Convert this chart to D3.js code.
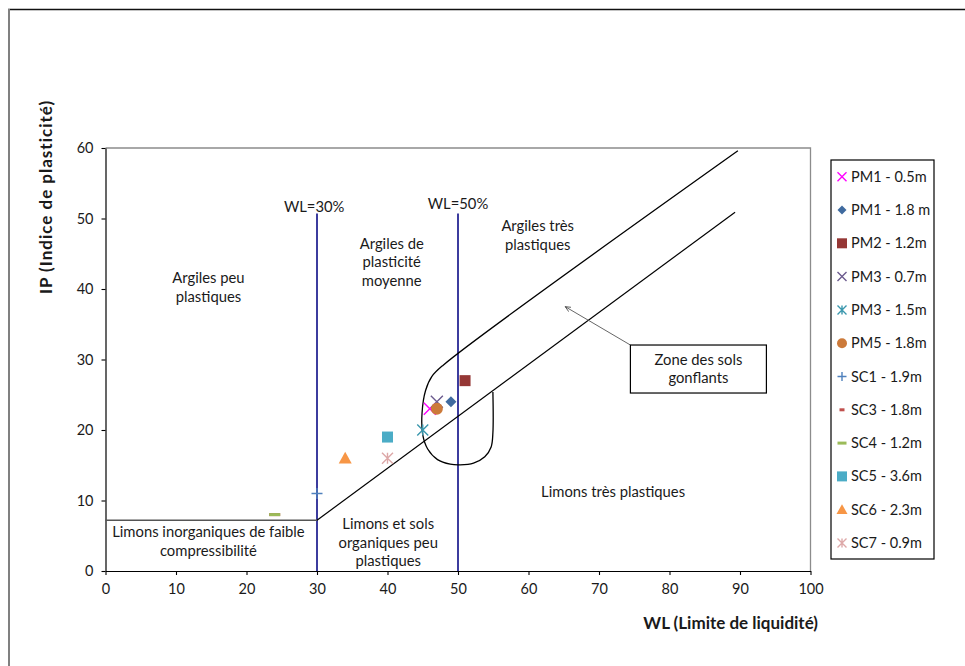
<!DOCTYPE html>
<html>
<head>
<meta charset="utf-8">
<script src="https://cdn.jsdelivr.net/npm/d3@7"></script>
<style>
  html, body { margin: 0; padding: 0; background: #fff; }
  text { font-family: Lato, "Open Sans", sans-serif; fill: #1a1a1a; }
</style>
</head>
<body>
<svg id="chart" width="965" height="666"></svg>
<script>
// Samples plotted on the Casagrande plasticity chart
const samples = ["PM1 - 0.5m", "PM1 - 1.8 m", "PM2 - 1.2m", "PM3 - 0.7m", "PM3 - 1.5m", "PM5 - 1.8m",
                 "SC1 - 1.9m", "SC3 - 1.8m", "SC4 - 1.2m", "SC5 - 3.6m", "SC6 - 2.3m", "SC7 - 0.9m"];
const wlValues = [46, 49, 51, 47, 45, 47, 30, 24, 24, 40, 34, 40];
const ipValues = [23, 24, 27, 24, 20, 23, 11, 8, 8, 19, 16, 16];
const symbols  = ["cross", "diamond", "square", "cross", "asterisk", "circle",
                  "plus", "dash", "dash", "square", "triangle", "asterisk"];
const colors   = ["#ff00ff", "#3f6a9f", "#953735", "#6b5a8e", "#3a97ad", "#cc7a3a",
                  "#4f81bd", "#c0504d", "#9bbb59", "#4bacc6", "#f79646", "#dda8a8"];

const xTicks = [0, 10, 20, 30, 40, 50, 60, 70, 80, 90, 100];
const yTicks = [0, 10, 20, 30, 40, 50, 60];

// Classification boundaries (WL, IP)
const lowerBoundary = [[0, 7.2], [30, 7.2], [89.3, 50.9]];
const swellingBoundary = [[89.7, 59.6], [47.9, 29.2], [46.3, 27.6], [45.4, 25.6], [44.9, 22.4],
                          [45.0, 19.3], [45.7, 17.3], [47.1, 15.8], [48.9, 15.15], [50.3, 15.05],
                          [52.2, 15.3], [53.8, 16.2], [54.7, 17.6], [54.95, 19.6], [54.95, 25.4]];
const wlLimits = [30, 50];
const wlLimitTop = 50.7;

// Zone labels, centred on (WL, IP)
const zoneLabels = [
  { lines: ["Argiles peu", "plastiques"], at: [14.6, 40.2] },
  { lines: ["Argiles de", "plasticité", "moyenne"], at: [40.6, 43.8] },
  { lines: ["Argiles très", "plastiques"], at: [61.3, 47.6] },
  { lines: ["Limons très plastiques"], at: [72, 11.2] },
  { lines: ["Limons inorganiques de faible", "compressibilité"], at: [14.6, 4.15] },
  { lines: ["Limons et sols", "organiques peu", "plastiques"], at: [40.1, 4.0] },
  { lines: ["WL=30%"], at: [29.6, 51.6] },
  { lines: ["WL=50%"], at: [50.0, 52.0] }
];
const swellNote = { lines: ["Zone des sols", "gonflants"], at: [84.1, 28.65], pointTo: [65.2, 37.5] };

const svg = d3.select("#chart");
const x = d3.scaleLinear().domain([0, 100]).range([105.5, 810.5]);
const y = d3.scaleLinear().domain([0, 60]).range([571, 148]);

// Outer frame
svg.append("line").attr("x1", 8).attr("x2", 965).attr("y1", 9.5).attr("y2", 9.5)
  .attr("stroke", "#111").attr("stroke-width", 1.5);
svg.append("line").attr("x1", 9).attr("x2", 9).attr("y1", 9).attr("y2", 666)
  .attr("stroke", "#808080").attr("stroke-width", 2);

// Plot area border (top and right)
svg.append("path")
  .attr("d", `M${x(0)},${y(60)}H${x(100)}V${y(0)}`)
  .attr("fill", "none").attr("stroke", "#8c8c8c").attr("stroke-width", 1.3);

// Axes
const fmt = d3.format("d");
const xAxis = svg.append("g").attr("transform", `translate(0,${y(0)})`)
  .call(d3.axisBottom(x).tickValues(xTicks).tickFormat(fmt).tickSize(4).tickPadding(9).tickSizeOuter(0));
const yAxis = svg.append("g").attr("transform", `translate(${x(0)},0)`)
  .call(d3.axisLeft(y).tickValues(yTicks).tickFormat(fmt).tickSize(4).tickPadding(8).tickSizeOuter(0));
[xAxis, yAxis].forEach(g => {
  g.select(".domain").attr("stroke", "#000").attr("stroke-width", 1.2);
  g.selectAll(".tick line").attr("stroke", "#000").attr("stroke-width", 1.1);
  g.selectAll(".tick text").style("font-family", "Lato, sans-serif").style("font-size", "14.5px").attr("fill", "#1a1a1a");
});

// Axis titles
svg.append("text").attr("x", 818).attr("y", 629).attr("text-anchor", "end")
  .style("font-size", "17px").style("font-weight", "bold").text("WL (Limite de liquidité)");
svg.append("text").attr("transform", `translate(52,${197}) rotate(-90)`).attr("text-anchor", "middle")
  .style("font-size", "17px").style("font-weight", "bold").style("letter-spacing", "1px")
  .text("IP (Indice de plasticité)");

const line = d3.line().x(d => x(d[0])).y(d => y(d[1]));

// WL = 30 % and WL = 50 % limits
svg.selectAll(".wl-limit").data(wlLimits).join("line").attr("class", "wl-limit")
  .attr("x1", d => x(d)).attr("x2", d => x(d)).attr("y1", y(0)).attr("y2", y(wlLimitTop))
  .attr("stroke", "#3c3c9e").attr("stroke-width", 2);

// Lower boundary: horizontal part then A-line
svg.append("path").attr("d", line(lowerBoundary.slice(0, 2)))
  .attr("fill", "none").attr("stroke", "#555").attr("stroke-width", 1.3);
svg.append("path").attr("d", line(lowerBoundary.slice(1)))
  .attr("fill", "none").attr("stroke", "#000").attr("stroke-width", 1.2);

// Swelling-soil zone envelope
svg.append("path")
  .attr("d", d3.line().x(d => x(d[0])).y(d => y(d[1])).curve(d3.curveCatmullRom.alpha(0.5))(swellingBoundary))
  .attr("fill", "none").attr("stroke", "#000").attr("stroke-width", 1.3);

// Zone labels
const lh = 18.5;
zoneLabels.forEach(l => {
  const t = svg.append("text").attr("text-anchor", "middle").style("font-size", "14.8px");
  const n = l.lines.length;
  l.lines.forEach((s, i) => {
    t.append("tspan").attr("x", x(l.at[0]))
      .attr("y", y(l.at[1]) + (i - (n - 1) / 2) * lh + 5).text(s);
  });
});

// Swelling zone call-out box with arrow
const defs = svg.append("defs");
defs.append("marker").attr("id", "arrow").attr("viewBox", "0 0 10 10").attr("refX", 9).attr("refY", 5)
  .attr("markerWidth", 7).attr("markerHeight", 7).attr("orient", "auto-start-reverse")
  .append("path").attr("d", "M0,1L9,5L0,9").attr("fill", "none").attr("stroke", "#444").attr("stroke-width", 1.2);
const bw = 136, bh = 48;
const bx = x(swellNote.at[0]) - bw / 2, by = y(swellNote.at[1]) - bh / 2;
svg.append("line").attr("x1", bx).attr("y1", by).attr("x2", x(swellNote.pointTo[0])).attr("y2", y(swellNote.pointTo[1]))
  .attr("stroke", "#555").attr("stroke-width", 0.9).attr("marker-end", "url(#arrow)");
svg.append("rect").attr("x", bx).attr("y", by).attr("width", bw).attr("height", bh)
  .attr("fill", "#fff").attr("stroke", "#000").attr("stroke-width", 1.2);
{
  const t = svg.append("text").attr("text-anchor", "middle").style("font-size", "14.8px");
  swellNote.lines.forEach((s, i) => {
    t.append("tspan").attr("x", x(swellNote.at[0])).attr("y", y(swellNote.at[1]) + (i - 0.5) * lh + 5).text(s);
  });
}

// Marker drawing
function drawMarker(g, type, color, s) {
  switch (type) {
    case "cross":
      g.append("path").attr("d", `M${-s},${-s}L${s},${s}M${-s},${s}L${s},${-s}`)
        .attr("stroke", color).attr("stroke-width", 1.4).attr("fill", "none");
      break;
    case "asterisk":
      g.append("path").attr("d", `M${-s},${-s}L${s},${s}M${-s},${s}L${s},${-s}M0,${-s}L0,${s}`)
        .attr("stroke", color).attr("stroke-width", 1.4).attr("fill", "none");
      break;
    case "plus":
      g.append("path").attr("d", `M${-s},0L${s},0M0,${-s}L0,${s}`)
        .attr("stroke", color).attr("stroke-width", 1.4).attr("fill", "none");
      break;
    case "dash":
      g.append("rect").attr("x", -s).attr("y", -1.5).attr("width", 2 * s).attr("height", 3).attr("fill", color);
      break;
    case "square":
      g.append("rect").attr("x", -s).attr("y", -s).attr("width", 2 * s).attr("height", 2 * s).attr("fill", color);
      break;
    case "diamond":
      g.append("path").attr("d", `M0,${-s}L${s},0L0,${s}L${-s},0Z`).attr("fill", color);
      break;
    case "circle":
      g.append("circle").attr("r", s).attr("fill", color);
      break;
    case "triangle":
      g.append("path").attr("d", `M0,${-s}L${s},${s * 0.8}L${-s},${s * 0.8}Z`).attr("fill", color);
      break;
  }
}
const plotSize = { cross: 6, asterisk: 5.5, plus: 5.5, dash: 5.5, square: 5.5, diamond: 5.5, circle: 6, triangle: 6.5 };
const legSize  = { cross: 4.5, asterisk: 4.5, plus: 4.5, dash: 4.5, square: 5, diamond: 4.5, circle: 5, triangle: 5.5 };

// Data points
samples.forEach((name, i) => {
  const g = svg.append("g").attr("class", "point")
    .attr("transform", `translate(${x(wlValues[i])},${y(ipValues[i])})`);
  drawMarker(g, symbols[i], colors[i], plotSize[symbols[i]]);
});

// Legend
const leg = svg.append("g").attr("transform", "translate(831,160)");
leg.append("rect").attr("width", 103).attr("height", 399).attr("fill", "#fff")
  .attr("stroke", "#000").attr("stroke-width", 1.2);
samples.forEach((name, i) => {
  const row = leg.append("g").attr("transform", `translate(11,${16.7 + i * 33.3})`);
  const s = symbols[i] === "dash" && i === 7 ? 2.5 : legSize[symbols[i]];
  drawMarker(row, symbols[i], colors[i], s);
  row.append("text").attr("x", 9).attr("y", 5).style("font-size", "14.5px").text(name);
});
</script>
</body>
</html>
